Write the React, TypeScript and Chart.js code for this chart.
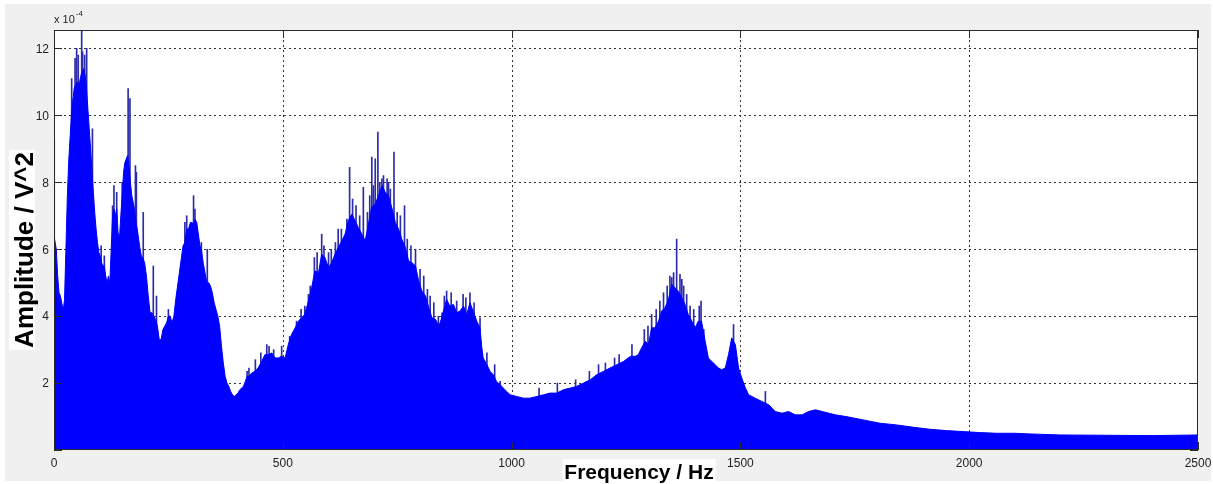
import React, { useEffect, useRef } from 'react';
import { Chart, registerables } from 'chart.js';

Chart.register(...registerables);

// Spectrum envelope (frequency in Hz, amplitude in units of 1e-4 V^2)
const FREQ = [
  0, 2, 5, 8, 11, 14, 17, 20, 23, 26, 29, 32, 35, 38, 41, 44, 47, 50, 53, 56, 59, 62, 65, 68, 71, 74, 77, 80, 83, 86, 89, 92, 95, 98,
  101, 104, 107, 110, 113, 116, 119, 122, 125, 128, 131, 134, 137, 140, 143, 146, 149, 152, 155, 158, 161, 164, 167, 170, 173, 176, 179,
  182, 185, 188, 191, 195, 198, 202, 206, 210, 214, 218, 222, 226, 230, 234, 238, 242, 246, 250, 254, 258, 262, 266, 270, 274, 278, 282,
  286, 290, 294, 298, 302, 305, 308, 312, 315, 319, 322, 326, 330, 334, 338, 342, 346, 350, 354, 358, 362, 366, 370, 374, 378, 382, 386,
  390, 394, 398, 402, 406, 410, 414, 418, 422, 426, 432, 439, 446, 454, 461, 468, 476, 483, 490, 497, 505, 512, 519, 527, 534, 541, 548,
  556, 563, 570, 578, 585, 592, 600, 607, 614, 621, 629, 636, 643, 651, 658, 665, 673, 680, 687, 694, 702, 709, 717, 724, 731, 739, 746,
  753, 760, 768, 775, 782, 790, 797, 804, 812, 819, 826, 834, 841, 846, 851, 858, 865, 873, 880, 887, 895, 902, 909, 916, 924, 931, 935,
  938, 946, 953, 960, 967, 975, 982, 989, 997, 1011, 1026, 1040, 1055, 1070, 1084, 1099, 1113, 1128, 1142, 1157, 1172, 1186, 1201, 1215,
  1230, 1245, 1260, 1270, 1277, 1284, 1292, 1299, 1306, 1313, 1321, 1328, 1335, 1342, 1350, 1357, 1364, 1372, 1379, 1386, 1394, 1401,
  1408, 1415, 1423, 1430, 1437, 1445, 1452, 1459, 1467, 1474, 1481, 1489, 1496, 1503, 1511, 1518, 1532, 1547, 1562, 1576, 1591, 1605,
  1620, 1635, 1649, 1664, 1679, 1693, 1708, 1731, 1768, 1805, 1841, 1878, 1914, 1950, 1987, 2024, 2060, 2100, 2133, 2200, 2300, 2400, 2500,
];
const AMP = [
  6.4, 6.4, 6.0, 5.2, 4.7, 4.6, 4.4, 4.15, 4.5, 6.0, 7.5, 8.6, 9.3, 10.0, 10.4, 10.8, 10.9, 11.0, 10.9, 11.0, 11.2, 11.3, 11.4, 11.2, 10.8,
  10.2, 9.6, 9.0, 8.3, 7.7, 7.1, 6.6, 6.2, 5.9,
  5.8, 5.6, 5.5, 5.5, 5.2, 5.0, 5.2, 5.0, 6.0, 7.0, 7.2, 7.0, 7.2, 6.5, 6.3, 7.0, 7.6, 8.3, 8.6, 8.7, 8.8, 8.5, 8.0, 7.6, 7.4, 7.2, 6.8,
  6.6, 6.3, 6.0, 5.8, 5.7, 5.6, 5.2, 4.6, 4.1, 4.1, 4.0, 3.9, 3.7, 3.3, 3.3, 3.6, 3.7, 3.8, 4.0, 4.0, 3.8, 4.0, 4.5, 4.9, 5.3, 5.7, 6.1,
  6.2, 6.6, 6.6, 6.8, 6.8, 6.7, 6.9, 6.8, 6.5, 6.1, 6.0, 5.6, 5.3, 5.0, 5.0, 4.9, 4.7, 4.4, 4.2, 4.0, 3.7, 3.1, 2.6, 2.2, 2.0, 1.9, 1.75,
  1.65, 1.6, 1.65, 1.7, 1.8, 1.85, 1.9, 2.05, 2.2, 2.2, 2.3, 2.35, 2.45, 2.65, 2.85, 2.85, 2.9, 2.75, 2.75, 2.8, 2.75, 3.15, 3.45, 3.65,
  3.85, 3.95, 4.05,
  4.45, 4.85, 5.35, 5.3, 5.85, 5.75, 5.45, 5.6, 5.85, 6.05, 6.25, 6.45, 6.85, 7.05, 6.85, 6.65, 6.45, 6.25, 6.75, 7.25, 7.35, 7.6, 7.9,
  7.7, 7.6, 7.2, 6.8,
  6.6, 6.3, 6.05, 5.65, 5.6, 5.5, 5.05, 4.75, 4.6, 4.25, 3.95, 3.9, 3.7, 3.9, 4.15, 4.5, 4.3, 4.35, 4.1, 4.15, 4.3, 4.05, 4.4, 4.15, 3.85,
  3.65, 3.05,
  2.75, 2.55, 2.35, 2.25, 2.05, 1.95, 1.85, 1.75, 1.65, 1.6, 1.55, 1.55, 1.6, 1.65, 1.7, 1.7, 1.8, 1.85, 1.9, 2.0, 2.1, 2.25, 2.35, 2.45,
  2.55, 2.65, 2.8, 2.8, 2.85, 3.05, 3.25, 3.15, 3.65, 3.65, 3.85, 4.15, 4.25, 4.45, 4.95, 4.85, 4.75, 4.55, 4.35, 4.05, 3.85, 3.65,
  3.85, 3.85, 3.25, 2.75, 2.65, 2.55, 2.45, 2.4, 2.45, 2.85, 3.35, 3.15, 2.45, 2.15, 1.85, 1.65, 1.55, 1.45, 1.35, 1.15, 1.1, 1.15,
  1.05, 1.05, 1.15, 1.2, 1.15, 1.1, 1.05, 1.0, 0.9, 0.8, 0.75, 0.68, 0.62, 0.58, 0.55, 0.52, 0.5, 0.5, 0.48, 0.45, 0.44, 0.43, 0.45,
];

// Narrow peaks rising above the envelope
const SPIKE_FREQ = [
  0.5, 38.6, 42, 46, 49.5, 53, 60.5, 62.5, 67, 71.4, 84, 103, 110, 128, 131, 137, 149, 162, 166, 178, 180, 195, 217, 224, 250, 286, 290,
  305, 308, 322, 335, 422, 426, 440, 452, 465, 470, 480, 497.5, 515, 530, 540, 548, 556, 560, 569, 575, 585, 590, 600, 606, 615, 621,
  628, 640, 646, 652.5, 660, 668, 676, 685, 690, 694.5, 698, 702, 707.8, 712, 716.6, 720, 728, 731, 735, 743, 750, 757, 766, 772, 780,
  790, 800, 808, 816, 822, 830, 840, 848, 853, 858, 868, 880, 894, 900, 909, 918, 931, 946, 963, 975, 1060, 1100, 1140, 1170, 1190,
  1205, 1225, 1235, 1263, 1290, 1298, 1306, 1316, 1324, 1332, 1340, 1346, 1350, 1354, 1360.7, 1368, 1372, 1376, 1382.6, 1390, 1398,
  1410, 1414, 1420, 1485, 1554.6,
];
const SPIKE_AMP = [
  9.3, 11.1, 10.5, 11.7, 12.0, 11.8, 12.55, 11.9, 11.8, 12.0, 9.6, 6.1, 5.8, 7.3, 7.9, 7.7, 8.0, 10.8, 10.5, 8.5, 8.3, 7.1, 5.5, 4.6, 4.2,
  6.8, 7.0, 7.6, 7.2, 6.2, 6.0, 2.35, 2.45, 2.7, 2.9, 3.15, 3.1, 3.0, 3.1, 3.4, 3.85, 4.2, 4.3, 4.65, 4.9, 5.75, 5.9, 6.45, 6.1, 5.9, 6.0,
  6.2, 6.6, 6.6, 6.9, 8.45, 7.5, 7.3, 7.0, 7.85, 7.1, 7.6, 8.75, 7.9, 8.7, 9.5, 8.0, 8.1, 8.2, 8.1, 8.0, 7.8, 8.9, 7.1, 7.0, 7.3, 6.3,
  6.1, 6.0, 5.4, 5.2, 4.8, 4.6, 4.4, 4.0, 4.1, 4.6, 4.75, 4.7, 4.45, 4.65, 4.55, 4.7, 4.4, 3.95, 2.9, 2.55, 2.05, 1.85, 2.0, 2.1, 2.35,
  2.55, 2.6, 2.75, 2.85, 3.15, 3.6, 3.7, 4.05, 4.2, 4.45, 4.7, 4.9, 5.2, 5.15, 5.3, 6.3, 5.25, 5.1, 4.9, 4.65, 4.3, 4.2, 4.3, 4.45, 3.6,
  3.75, 1.75,
];

const X_TICKS = [0, 500, 1000, 1500, 2000, 2500];
const Y_TICKS = [0, 2, 4, 6, 8, 10, 12];
const X_TITLE = 'Frequency / Hz';
const Y_TITLE = 'Amplitude / V^2';
const EXPONENT_BASE = 'x 10';
const EXPONENT = '-4';

const W = 1213;
const H = 484;
const FONT = '"Liberation Sans", Arial, sans-serif';

const matlabPlugin = {
  id: 'matlabLook',
  beforeDraw(chart: any) {
    const ctx = chart.ctx;
    const a = chart.chartArea;
    ctx.save();
    ctx.fillStyle = '#ffffff';
    ctx.fillRect(0, 0, W, H);
    ctx.fillStyle = '#f0f0f0';
    ctx.fillRect(5, 4, W - 7, 477);
    ctx.fillStyle = '#ffffff';
    ctx.fillRect(a.left, a.top, a.right - a.left, a.bottom - a.top);
    ctx.restore();
  },
  beforeDatasetsDraw(chart: any) {
    const ctx = chart.ctx;
    const a = chart.chartArea;
    const xs = chart.scales.x;
    const ys = chart.scales.y;
    ctx.save();
    ctx.strokeStyle = '#333333';
    ctx.lineWidth = 1;
    ctx.setLineDash([2, 3]);
    X_TICKS.forEach((v) => {
      if (v === X_TICKS[0] || v === X_TICKS[X_TICKS.length - 1]) return;
      const px = Math.round(xs.getPixelForValue(v)) + 0.5;
      ctx.beginPath();
      ctx.moveTo(px, a.top);
      ctx.lineTo(px, a.bottom);
      ctx.stroke();
    });
    Y_TICKS.forEach((v) => {
      if (v === 0) return;
      const py = Math.round(ys.getPixelForValue(v)) + 0.5;
      ctx.beginPath();
      ctx.moveTo(a.left, py);
      ctx.lineTo(a.right, py);
      ctx.stroke();
    });
    ctx.restore();
  },
  afterDatasetsDraw(chart: any) {
    const ctx = chart.ctx;
    const a = chart.chartArea;
    const xs = chart.scales.x;
    const ys = chart.scales.y;
    ctx.save();
    ctx.strokeStyle = '#2a2a2a';
    ctx.lineWidth = 1;
    ctx.setLineDash([]);
    ctx.strokeRect(a.left + 0.5, a.top + 0.5, a.right - a.left - 1, a.bottom - a.top - 1);
    const tl = 8;
    ctx.beginPath();
    X_TICKS.forEach((v) => {
      const px = Math.round(xs.getPixelForValue(v)) + 0.5;
      ctx.moveTo(px, a.top);
      ctx.lineTo(px, a.top + tl);
      ctx.moveTo(px, a.bottom);
      ctx.lineTo(px, a.bottom - tl);
    });
    Y_TICKS.forEach((v) => {
      const py = Math.round(ys.getPixelForValue(v)) + 0.5;
      ctx.moveTo(a.left, py);
      ctx.lineTo(a.left + tl, py);
      ctx.moveTo(a.right, py);
      ctx.lineTo(a.right - tl, py);
    });
    ctx.stroke();

    // tick labels
    ctx.fillStyle = '#222222';
    ctx.font = `12px ${FONT}`;
    ctx.textAlign = 'center';
    ctx.textBaseline = 'alphabetic';
    X_TICKS.forEach((v) => {
      ctx.fillText(String(v), xs.getPixelForValue(v), 467);
    });
    ctx.textAlign = 'right';
    ctx.textBaseline = 'middle';
    Y_TICKS.forEach((v) => {
      if (v === 0) return;
      ctx.fillText(String(v), a.left - 5, ys.getPixelForValue(v) + 1);
    });

    // exponent label
    ctx.textBaseline = 'alphabetic';
    ctx.textAlign = 'left';
    ctx.font = `11px ${FONT}`;
    ctx.fillText(EXPONENT_BASE, 54, 23);
    const bw = ctx.measureText(EXPONENT_BASE).width;
    ctx.font = `8px ${FONT}`;
    ctx.fillText(EXPONENT, 54 + bw + 1, 16);

    // x title with white box
    ctx.font = `bold 21px ${FONT}`;
    const xw = ctx.measureText(X_TITLE).width;
    const xc = 639;
    ctx.fillStyle = '#ffffff';
    ctx.fillRect(xc - xw / 2 - 2, 459, xw + 4, H - 459);
    ctx.fillStyle = '#000000';
    ctx.textAlign = 'center';
    ctx.fillText(X_TITLE, xc, 479);

    // y title with white box
    ctx.font = `bold 26px ${FONT}`;
    const yw = ctx.measureText(Y_TITLE).width;
    const yc = 250;
    ctx.translate(24, yc);
    ctx.rotate(-Math.PI / 2);
    ctx.fillStyle = '#ffffff';
    ctx.fillRect(-yw / 2 - 2, -15, yw + 4, 26);
    ctx.fillStyle = '#000000';
    ctx.fillText(Y_TITLE, 0, 9);
    ctx.restore();
  },
};

export default function App() {
  const ref = useRef<HTMLCanvasElement | null>(null);
  useEffect(() => {
    if (!ref.current) return;
    const chart = new Chart(ref.current, {
      type: 'line',
      data: {
        datasets: [
          {
            type: 'bar',
            label: 'peaks',
            data: SPIKE_FREQ.map((f, i) => ({ x: f, y: SPIKE_AMP[i] })),
            backgroundColor: '#2c2ca8',
            borderWidth: 0,
            barThickness: 1,
            order: 2,
          } as any,
          {
            type: 'line',
            label: 'spectrum',
            data: FREQ.map((f, i) => ({ x: f, y: AMP[i] })),
            borderColor: '#0000ff',
            backgroundColor: '#0000ff',
            borderWidth: 1,
            pointRadius: 0,
            fill: 'origin',
            tension: 0,
            order: 1,
          } as any,
        ],
      },
      options: {
        animation: false,
        responsive: false,
        events: [],
        layout: { padding: { left: 0, top: 30, right: 15, bottom: 0 } },
        plugins: { legend: { display: false }, tooltip: { enabled: false } },
        scales: {
          x: {
            type: 'linear',
            min: 0,
            max: 2500,
            offset: false,
            grid: { display: false, drawTicks: false },
            border: { display: false },
            ticks: { display: false },
            afterBuildTicks: (s: any) => {
              s.ticks = X_TICKS.map((v) => ({ value: v }));
            },
            afterFit: (s: any) => {
              s.height = 34;
            },
          },
          y: {
            type: 'linear',
            min: 0,
            max: 12.55,
            grid: { display: false, drawTicks: false },
            border: { display: false },
            ticks: { display: false },
            afterBuildTicks: (s: any) => {
              s.ticks = Y_TICKS.map((v) => ({ value: v }));
            },
            afterFit: (s: any) => {
              s.width = 54;
            },
          },
        },
      } as any,
      plugins: [matlabPlugin],
    });
    return () => chart.destroy();
  }, []);
  return (
    <div style={{ position: 'fixed', left: 0, top: 0, width: W, height: H, background: '#ffffff' }}>
      <canvas ref={ref} width={W} height={H} style={{ display: 'block', width: W, height: H }} />
    </div>
  );
}
